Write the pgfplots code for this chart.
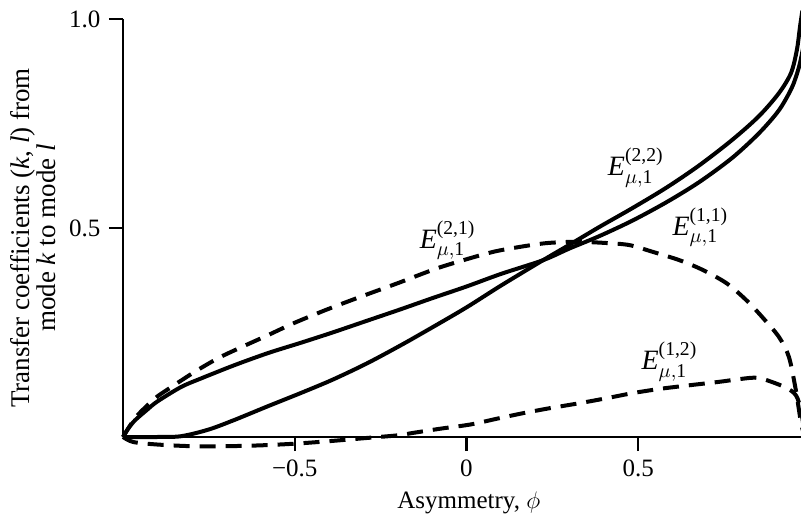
\documentclass[border=0pt]{standalone}
\usepackage{fontspec}
\setmainfont{Liberation Serif}
\usepackage{amsmath}
\usepackage{pgfplots}
\pgfplotsset{compat=1.18}
\begin{document}
\fontsize{12.5}{15}\selectfont
\begin{tikzpicture}
\useasboundingbox (-61.5pt,-40.5pt) rectangle (339pt,218.5pt);
\begin{axis}[
 scale only axis, width=339pt, height=209pt,
 xmin=-1, xmax=0.974, ymin=0, ymax=1,
 axis x line*=bottom, axis y line*=left,
 axis line style={line width=1.2pt},
 clip=false,
 xtick={-0.5,0,0.5}, xticklabels={−0.5,0,0.5},
 ytick={0.5,1}, yticklabels={0.5,1.0},
 tick align=outside, major tick length=7pt,
 tick style={line width=1.2pt, black},
 xlabel={Asymmetry, $\phi$},
 ylabel={Transfer coefficients (\textit{k}, \textit{l}) from\\mode \textit{k} to mode \textit{l}},
 ylabel style={align=center, at={(axis description cs:-0.1327,0.476)}, anchor=center,
   font=\fontsize{13.5}{13}\selectfont},
 xlabel style={at={(axis description cs:0.51,0)}, anchor=center, yshift=-33pt},
]
% E22 (solid, steeper)
\addplot[black, line width=2pt, smooth] coordinates {
(-1,0) (-0.9,0) (-0.83,0.002) (-0.75,0.018) (-0.675,0.041) (-0.58,0.073) (-0.48,0.106)
(-0.39,0.137) (-0.29,0.176) (-0.19,0.220) (-0.1,0.262) (0,0.31) (0.1,0.362) (0.223,0.423)
(0.3,0.46) (0.388,0.503) (0.484,0.548) (0.583,0.597) (0.678,0.650) (0.774,0.711)
(0.852,0.768) (0.91,0.823) (0.945,0.871) (0.962,0.926) (0.971,0.981) (0.978,1.02)};
% E11 (solid, from corner)
\addplot[black, line width=2pt, smooth] coordinates {
(-1,0) (-0.985,0.02) (-0.965,0.04) (-0.93,0.065) (-0.9,0.085) (-0.83,0.12) (-0.77,0.141)
(-0.675,0.172) (-0.577,0.201) (-0.48,0.226) (-0.39,0.25) (-0.29,0.278) (-0.19,0.306)
(-0.1,0.332) (0,0.36) (0.1,0.39) (0.223,0.423) (0.3,0.451) (0.388,0.481) (0.484,0.518)
(0.583,0.562) (0.678,0.610) (0.774,0.668) (0.852,0.727) (0.91,0.782) (0.948,0.837)
(0.968,0.885) (0.98,0.93)};
% E21 (dashed, large)
\addplot[black, line width=2pt, dash pattern=on 8pt off 5pt, smooth] coordinates {
(-1,0) (-0.965,0.045) (-0.93,0.075) (-0.9,0.097) (-0.864,0.117) (-0.791,0.156)
(-0.722,0.189) (-0.655,0.215) (-0.577,0.244) (-0.501,0.273) (-0.4,0.307) (-0.3,0.338)
(-0.2,0.368) (-0.162,0.380) (-0.084,0.404) (-0.009,0.423) (0.078,0.443) (0.157,0.455)
(0.235,0.464) (0.322,0.467) (0.409,0.464) (0.475,0.459) (0.542,0.443) (0.620,0.423)
(0.687,0.400) (0.757,0.368) (0.814,0.328) (0.861,0.287) (0.910,0.239) (0.939,0.191)
(0.959,0.112) (0.968,0.065) (0.975,0.03) (0.985,0)};
% E12 (dashed, small)
\addplot[black, line width=2pt, dash pattern=on 8pt off 5pt, smooth] coordinates {
(-1,0) (-0.97,-0.012) (-0.9,-0.018) (-0.8,-0.022) (-0.7,-0.022) (-0.6,-0.02) (-0.5,-0.016)
(-0.4,-0.01) (-0.3,-0.003) (-0.2,0.004) (-0.154,0.010) (-0.075,0.020) (0.012,0.030)
(0.090,0.044) (0.165,0.057) (0.243,0.069) (0.330,0.081) (0.409,0.093) (0.484,0.105)
(0.562,0.115) (0.641,0.123) (0.736,0.132) (0.80,0.139) (0.852,0.141) (0.925,0.120)
(0.959,0.100) (0.975,0.06) (0.985,0)};
\begin{scope}[every node/.style={font=\fontsize{14}{16}\selectfont}]
\node at (axis cs:-0.055,0.471) {$\textit{E}^{\text{(2,1)}}_{\mu,\text{1}}$};
\node at (axis cs:0.681,0.502) {$\textit{E}^{\text{(1,1)}}_{\mu,\text{1}}$};
\node at (axis cs:0.493,0.644) {$\textit{E}^{\text{(2,2)}}_{\mu,\text{1}}$};
\node at (axis cs:0.591,0.18) {$\textit{E}^{\text{(1,2)}}_{\mu,\text{1}}$};
\end{scope}
\end{axis}
\end{tikzpicture}
\end{document}
